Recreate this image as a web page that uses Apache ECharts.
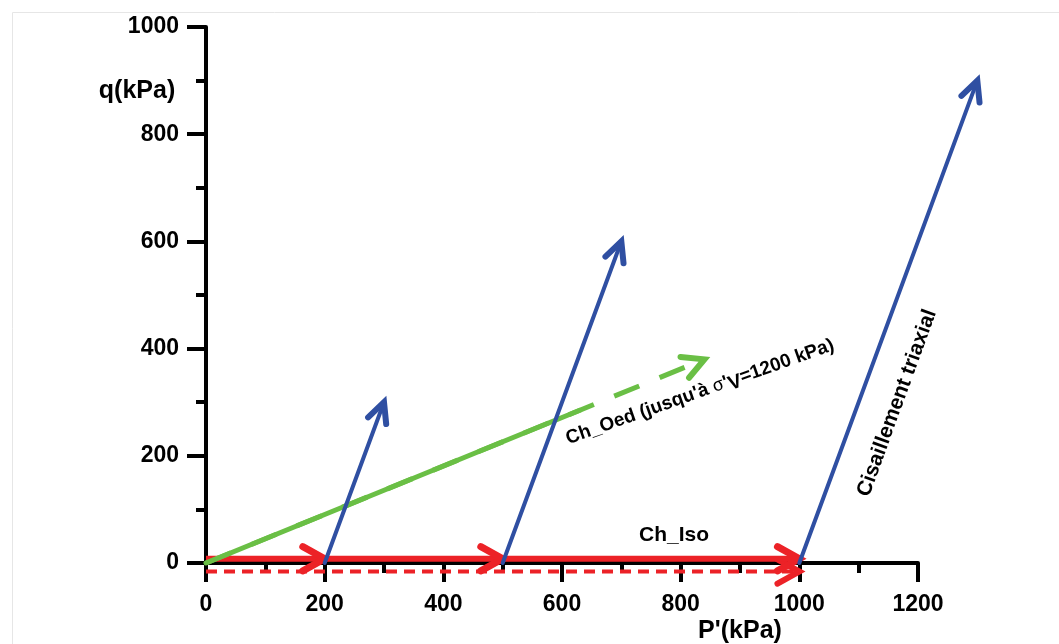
<!DOCTYPE html>
<html><head><meta charset="utf-8">
<script src="https://cdn.jsdelivr.net/npm/echarts@6/dist/echarts.min.js"></script>
<style>html,body{margin:0;padding:0;background:#fff}#c{width:1059px;height:644px}</style>
</head><body><div id="c"></div>
<script>
// ---- data (P' in kPa, q in kPa) ----
const isoPathP = [0, 200, 500, 1000];     // Ch_Iso solid path, arrow at each stop
const isoPathQ = [8, 8, 8, 8];
const isoDashP = [0, 1000];               // Ch_Iso dashed path
const isoDashQ = [-16, -16];
const oedSolidP = [0, 630];               // Ch_Oed solid part
const oedSolidQ = [0, 285];
const oedDashP = [0, 840];                // Ch_Oed dashed continuation
const oedDashQ = [0, 380];
const triaxStartP = [200, 500, 1000];     // triaxial shear paths
const triaxStartQ = [0, 0, 0];
const triaxEndP = [300, 700, 1300];
const triaxEndQ = [300, 600, 900];
const xTickMin = 0, xTickMax = 1200, xTickStep = 200;
const yTickMin = 0, yTickMax = 1000, yTickStep = 200;

const FONT = "'Liberation Sans', Arial, sans-serif";
const BLUE = '#2f4fa2', RED = '#ec2227', GREEN = '#6abf45';

function chain(P, Q) {
  const out = [];
  for (let i = 0; i + 1 < P.length; i++) out.push([P[i], Q[i], P[i + 1], Q[i + 1]]);
  return out;
}
function pairs(P1, Q1, P2, Q2) {
  return P1.map((p, i) => [p, Q1[i], P2[i], Q2[i]]);
}

function arrowSeries(name, data, opt) {
  return {
    type: 'custom', name: name, data: data, clip: false, silent: true, z: opt.z || 2,
    encode: { x: [0, 2], y: [1, 3] },
    renderItem: function (params, api) {
      const a = api.coord([api.value(0), api.value(1)]);
      const b = api.coord([api.value(2), api.value(3)]);
      const dx = b[0] - a[0], dy = b[1] - a[1], len = Math.hypot(dx, dy);
      const ux = dx / len, uy = dy / len;
      const t = (opt.headAngle || 0) * Math.PI / 180, L = opt.headLen || 0;
      const rot = (x, y, r) => [x * Math.cos(r) - y * Math.sin(r), x * Math.sin(r) + y * Math.cos(r)];
      const w1 = rot(-ux, -uy, t), w2 = rot(-ux, -uy, -t);
      const back = opt.arrow ? 3 : 0;
      const children = [{
        type: 'line',
        shape: { x1: a[0], y1: a[1], x2: b[0] - ux * back, y2: b[1] - uy * back },
        style: { stroke: opt.color, lineWidth: opt.width, lineDash: opt.dash || null, lineCap: opt.cap || 'butt' }
      }];
      if (opt.arrow) {
        children.push({
          type: 'polyline',
          shape: { points: [[b[0] + L * w1[0], b[1] + L * w1[1]], [b[0], b[1]], [b[0] + L * w2[0], b[1] + L * w2[1]]] },
          style: { stroke: opt.color, lineWidth: opt.headWidth, fill: null, lineJoin: opt.join || 'miter', miterLimit: 10, lineCap: 'round' }
        });
      }
      return { type: 'group', children: children };
    }
  };
}

const chart = echarts.init(document.getElementById('c'), null, { renderer: 'canvas' });
const axisCommon = {
  type: 'value',
  axisLine: { show: true, onZero: false, lineStyle: { color: '#000', width: 4 } },
  axisTick: { show: true, length: 19, lineStyle: { color: '#000', width: 4 } },
  minorTick: { show: true, splitNumber: 2, length: 10, lineStyle: { color: '#000', width: 4 } },
  splitLine: { show: false },
  minorSplitLine: { show: false }
};
const plain = v => String(v);
chart.setOption({
  animation: false,
  backgroundColor: '#fff',
  grid: { left: 206, right: 141, top: 27, bottom: 81, containLabel: false },
  xAxis: Object.assign({}, axisCommon, {
    min: xTickMin, max: xTickMax, interval: xTickStep,
    axisLabel: { margin: 30, fontSize: 23, fontWeight: 'bold', color: '#000', fontFamily: FONT, formatter: plain }
  }),
  yAxis: Object.assign({}, axisCommon, {
    min: yTickMin, max: yTickMax, interval: yTickStep,
    axisLabel: { margin: 27, fontSize: 23, fontWeight: 'bold', color: '#000', fontFamily: FONT, formatter: plain }
  }),
  series: [
    arrowSeries('iso-dash', chain(isoDashP, isoDashQ), { color: RED, width: 4, dash: [11, 7], arrow: true, headLen: 25, headAngle: 29, headWidth: 6, z: 2 }),
    arrowSeries('iso', chain(isoPathP, isoPathQ), { color: RED, width: 6, arrow: true, headLen: 25, headAngle: 29, headWidth: 7, z: 3 }),
    arrowSeries('oed-dash', chain(oedDashP, oedDashQ), { color: GREEN, width: 5, dash: [27, 22], arrow: true, headLen: 24, headAngle: 28, headWidth: 6, z: 4 }),
    arrowSeries('oed', chain(oedSolidP, oedSolidQ), { color: GREEN, width: 5, arrow: false, cap: 'round', z: 4 }),
    arrowSeries('triax', pairs(triaxStartP, triaxStartQ, triaxEndP, triaxEndQ), { color: BLUE, width: 4, arrow: true, headLen: 22, headAngle: 26, headWidth: 6, join: 'miter', cap: 'round', z: 5 })
  ],
  graphic: [
    { type: 'rect', z: -10, silent: true, shape: { x: 12.5, y: 12.5, width: 1100, height: 700 }, style: { fill: null, stroke: '#e6e6e6', lineWidth: 1 } },
    { type: 'text', x: 137, y: 91, silent: true, style: { text: 'q(kPa)', fontSize: 25, fontWeight: 'bold', fontFamily: FONT, fill: '#000', align: 'center', verticalAlign: 'middle' } },
    { type: 'text', x: 740, y: 631, silent: true, style: { text: "P'(kPa)", fontSize: 25, fontWeight: 'bold', fontFamily: FONT, fill: '#000', align: 'center', verticalAlign: 'middle' } },
    { type: 'text', x: 674, y: 535, silent: true, style: { text: 'Ch_Iso', fontSize: 21, fontWeight: 'bold', fontFamily: FONT, fill: '#000', align: 'center', verticalAlign: 'middle' } },
    { type: 'text', x: 897, y: 403, rotation: 70 * Math.PI / 180, silent: true, style: { text: 'Cisaillement triaxial', fontSize: 21, fontWeight: 'bold', fontFamily: FONT, fill: '#000', align: 'center', verticalAlign: 'middle' } },
    { type: 'text', x: 700, y: 392, rotation: 19.5 * Math.PI / 180, silent: true, style: {
        text: "{a|Ch_Oed (jusqu'à }{s|σ}{a|'}{v|V}{a|=1200 kPa)}",
        align: 'center', verticalAlign: 'middle',
        rich: {
          a: { fontSize: 19, fontWeight: 'bold', fontFamily: FONT, fill: '#000' },
          s: { fontSize: 18, fontWeight: 'normal', fontFamily: FONT, fill: '#000' },
          v: { fontSize: 20, fontWeight: 'bold', fontFamily: FONT, fill: '#000', padding: [6, 0, 0, 0] }
        }
      } }
  ]
});
</script>
</body></html>
